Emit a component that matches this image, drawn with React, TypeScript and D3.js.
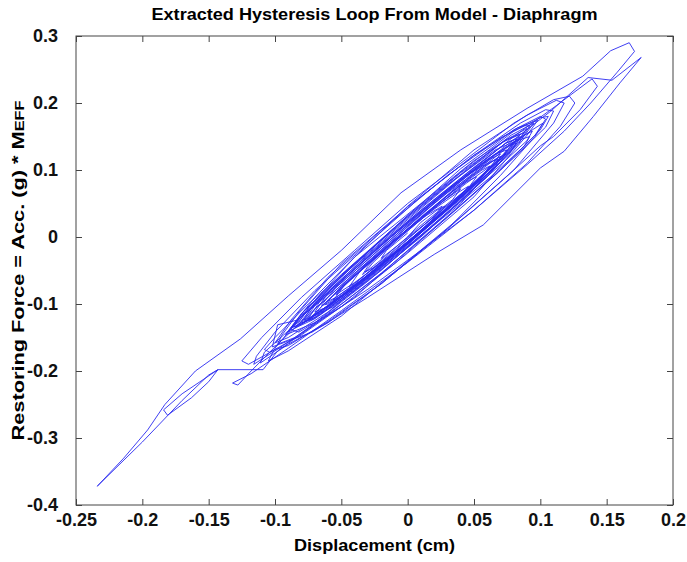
import React, { useRef, useEffect } from "react";
import { select, scaleLinear, line, axisBottom, axisTop, axisLeft, axisRight } from "d3";

// tick values
const xTicks = [-0.25, -0.2, -0.15, -0.1, -0.05, 0, 0.05, 0.1, 0.15, 0.2];
const yTicks = [-0.4, -0.3, -0.2, -0.1, 0, 0.1, 0.2, 0.3];

// hysteresis trace, [displacement (cm), restoring force] in time order
const startCycles = [
  [0.0, 0.0], [0.01, 0.022], [0.022, 0.04], [0.028, 0.046], [0.024, 0.036], [0.008, 0.006],
  [-0.012, -0.026], [-0.026, -0.046], [-0.032, -0.052], [-0.026, -0.038], [-0.008, -0.004],
  [0.016, 0.036], [0.036, 0.064], [0.046, 0.076], [0.04, 0.062], [0.018, 0.022],
  [-0.014, -0.03], [-0.04, -0.068], [-0.054, -0.086], [-0.048, -0.072], [-0.024, -0.03],
  [0.01, 0.028], [0.044, 0.08], [0.064, 0.108], [0.07, 0.116], [0.062, 0.098], [0.032, 0.044],
  [-0.008, -0.022], [-0.046, -0.082], [-0.07, -0.116], [-0.078, -0.126], [-0.07, -0.108],
];

const negativeExcursion = [
  [-0.04, -0.054], [0.0, 0.012], [0.04, 0.078], [0.074, 0.132], [0.094, 0.16], [0.102, 0.17],
  [0.096, 0.152], [0.068, 0.096], [0.028, 0.026], [-0.02, -0.054], [-0.064, -0.122],
  [-0.098, -0.17], [-0.109, -0.198], [-0.143, -0.198], [-0.15, -0.216], [-0.163, -0.24],
  [-0.181, -0.266], [-0.184, -0.258], [-0.17, -0.234], [-0.152, -0.21], [-0.143, -0.198],
  [-0.15, -0.206], [-0.17, -0.244], [-0.2, -0.306], [-0.234, -0.372], [-0.214, -0.33],
  [-0.196, -0.288], [-0.183, -0.25], [-0.16, -0.2], [-0.126, -0.152],
];

const positiveExcursion = [
  [-0.09, -0.088], [-0.05, -0.02], [-0.005, 0.066], [0.04, 0.13], [0.09, 0.192], [0.132, 0.24],
  [0.153, 0.278], [0.167, 0.29], [0.171, 0.277], [0.158, 0.246], [0.138, 0.2], [0.118, 0.158],
  [0.09, 0.108], [0.05, 0.04], [0.0, -0.038], [-0.05, -0.11], [-0.09, -0.166], [-0.118, -0.204],
  [-0.132, -0.218], [-0.128, -0.221], [-0.118, -0.2], [-0.098, -0.16], [-0.066, -0.1],
  [-0.024, -0.026], [0.024, 0.058], [0.07, 0.13], [0.108, 0.188], [0.136, 0.238], [0.154, 0.234],
  [0.176, 0.268], [0.16, 0.23], [0.14, 0.18], [0.118, 0.128], [0.1, 0.103], [0.057, 0.018],
  [0.02, -0.026], [-0.03, -0.09], [-0.072, -0.142], [-0.102, -0.164], [-0.098, -0.131],
  [-0.083, -0.124], [-0.06, -0.086], [-0.02, -0.016], [0.03, 0.07], [0.08, 0.15], [0.112, 0.196],
  [0.139, 0.236], [0.143, 0.225], [0.13, 0.19], [0.11, 0.15], [0.1, 0.136], [0.07, 0.082],
  [0.03, 0.012], [-0.02, -0.07], [-0.06, -0.128], [-0.09, -0.16], [-0.111, -0.188],
  [-0.108, -0.172], [-0.09, -0.14],
];

const wideCycles = [
  [-0.07, -0.09], [-0.04, -0.03], [0.0, 0.046], [0.05, 0.13], [0.09, 0.182], [0.112, 0.204],
  [0.118, 0.2], [0.11, 0.17], [0.08, 0.1], [0.04, 0.03], [0.0, -0.036], [-0.05, -0.118],
  [-0.09, -0.17], [-0.105, -0.185], [-0.1, -0.166], [-0.08, -0.118], [-0.05, -0.06],
  [-0.01, 0.014], [0.04, 0.102], [0.08, 0.16], [0.1, 0.18], [0.104, 0.176], [0.096, 0.15],
  [0.07, 0.092], [0.03, 0.012], [-0.02, -0.07], [-0.06, -0.126], [-0.09, -0.162], [-0.1, -0.168],
];

const outerCycles = [
  [-0.12, -0.19], [-0.125, -0.185], [-0.11, -0.15], [-0.08, -0.09], [-0.04, -0.02], [0.0, 0.05],
  [0.04, 0.11], [0.08, 0.17], [0.11, 0.205], [0.122, 0.21], [0.126, 0.2], [0.115, 0.165],
  [0.09, 0.11], [0.05, 0.04], [0.01, -0.02], [-0.03, -0.078], [-0.07, -0.13], [-0.1, -0.17],
  [-0.116, -0.19], [-0.114, -0.178], [-0.1, -0.142], [-0.07, -0.08], [-0.03, -0.01], [0.01, 0.06],
  [0.05, 0.122], [0.085, 0.17], [0.104, 0.19], [0.11, 0.188], [0.104, 0.164], [0.08, 0.118],
  [0.04, 0.048], [0.0, -0.02], [-0.04, -0.09], [-0.08, -0.146], [-0.104, -0.172], [-0.108, -0.168],
  [-0.1, -0.15], [-0.075, -0.1], [-0.04, -0.04], [0.0, 0.032], [0.045, 0.105], [0.08, 0.158],
  [0.1, 0.178], [0.106, 0.18], [0.1, 0.16], [0.07, 0.1], [0.03, 0.03], [-0.01, -0.04],
  [-0.05, -0.1], [-0.085, -0.15], [-0.098, -0.16],
];

const midCycles = [
  [-0.095, -0.147], [-0.082, -0.112], [-0.05, -0.04], [0.0, 0.045], [0.05, 0.122], [0.083, 0.163],
  [0.098, 0.174], [0.09, 0.152], [0.05, 0.06], [0.0, -0.024], [-0.05, -0.104], [-0.082, -0.142],
  [-0.088, -0.138], [-0.076, -0.108], [-0.04, -0.03], [0.01, 0.05], [0.05, 0.114], [0.075, 0.146],
  [0.085, 0.154], [0.078, 0.134], [0.04, 0.05], [-0.01, -0.03], [-0.06, -0.112], [-0.09, -0.15],
  [-0.1, -0.158], [-0.088, -0.124], [-0.06, -0.06], [-0.02, 0.01], [0.03, 0.092], [0.07, 0.148],
  [0.088, 0.166], [0.092, 0.166], [0.084, 0.14], [0.05, 0.072], [0.01, 0.0], [-0.04, -0.08],
  [-0.07, -0.122], [-0.08, -0.128], [-0.07, -0.098], [-0.04, -0.04], [0.0, 0.03], [0.04, 0.096],
  [0.075, 0.146], [0.09, 0.162], [0.082, 0.14], [0.06, 0.09], [0.02, 0.018], [-0.03, -0.066],
  [-0.07, -0.128], [-0.092, -0.146], [-0.08, -0.114], [-0.05, -0.056], [-0.01, 0.014],
  [0.03, 0.078], [0.066, 0.13], [0.08, 0.142], [0.072, 0.122], [0.04, 0.06], [0.0, -0.012],
  [-0.04, -0.078], [-0.072, -0.124], [-0.085, -0.136], [-0.074, -0.104], [-0.044, -0.046],
  [0.0, 0.028], [0.044, 0.1], [0.078, 0.152], [0.095, 0.17], [0.086, 0.146], [0.06, 0.09],
  [0.02, 0.02], [-0.02, -0.05], [-0.056, -0.104], [-0.075, -0.122], [-0.064, -0.09],
  [-0.036, -0.04], [0.0, 0.022], [0.036, 0.08], [0.066, 0.124], [0.075, 0.13], [0.066, 0.11],
  [0.036, 0.052], [0.0, -0.01], [-0.04, -0.076], [-0.08, -0.13], [-0.09, -0.142], [-0.078, -0.11],
  [-0.046, -0.052], [-0.006, 0.016], [0.036, 0.086], [0.072, 0.142], [0.088, 0.156], [0.08, 0.134],
  [0.05, 0.08], [0.012, 0.012], [-0.03, -0.06], [-0.06, -0.104], [-0.07, -0.112], [-0.058, -0.078],
  [-0.03, -0.026], [0.01, 0.04], [0.05, 0.104], [0.074, 0.14], [0.082, 0.146], [0.074, 0.126],
  [0.044, 0.07], [0.004, 0.0], [-0.036, -0.068], [-0.07, -0.12], [-0.082, -0.13], [-0.07, -0.1],
  [-0.04, -0.048], [0.0, 0.022], [0.04, 0.084], [0.062, 0.116], [0.07, 0.124], [0.062, 0.104],
  [0.03, 0.044], [-0.01, -0.024], [-0.044, -0.08], [-0.06, -0.1], [-0.065, -0.102],
  [-0.052, -0.07], [-0.024, -0.018], [0.01, 0.036], [0.044, 0.092], [0.062, 0.112], [0.068, 0.116],
  [0.058, 0.094], [0.03, 0.042], [-0.01, -0.026], [-0.05, -0.09], [-0.072, -0.118],
  [-0.078, -0.124], [-0.066, -0.092], [-0.036, -0.038], [0.004, 0.03], [0.044, 0.094],
  [0.074, 0.14], [0.085, 0.15], [0.076, 0.128], [0.046, 0.07], [0.006, 0.0], [-0.03, -0.058],
  [-0.054, -0.09], [-0.06, -0.096],
];

const decayCycles = [
  [-0.05, -0.074], [-0.02, -0.02], [0.02, 0.05], [0.055, 0.108], [0.08, 0.142], [0.092, 0.15],
  [0.088, 0.136], [0.064, 0.092], [0.03, 0.036], [-0.01, -0.03], [-0.05, -0.092], [-0.078, -0.128],
  [-0.088, -0.136], [-0.08, -0.118], [-0.05, -0.066], [-0.01, 0.004], [0.03, 0.07], [0.06, 0.116],
  [0.076, 0.136], [0.082, 0.14], [0.076, 0.122], [0.05, 0.076], [0.01, 0.01], [-0.03, -0.056],
  [-0.062, -0.106], [-0.08, -0.13], [-0.086, -0.134], [-0.076, -0.112], [-0.044, -0.058],
  [-0.006, 0.008], [0.03, 0.066], [0.058, 0.106], [0.07, 0.12], [0.066, 0.104], [0.04, 0.058],
  [0.004, -0.004], [-0.036, -0.066], [-0.064, -0.108], [-0.072, -0.118], [-0.06, -0.094],
  [-0.03, -0.04], [0.006, 0.022], [0.04, 0.08], [0.066, 0.122], [0.086, 0.15], [0.094, 0.158],
  [0.09, 0.144], [0.068, 0.104], [0.03, 0.04], [-0.01, -0.028], [-0.046, -0.086], [-0.066, -0.116],
  [-0.074, -0.124], [-0.064, -0.102], [-0.036, -0.052], [0.0, 0.012], [0.034, 0.068], [0.056, 0.1],
  [0.062, 0.106], [0.056, 0.09], [0.028, 0.044], [-0.008, -0.016], [-0.04, -0.07], [-0.058, -0.096],
  [-0.062, -0.1], [-0.052, -0.078], [-0.024, -0.03], [0.01, 0.03], [0.04, 0.078], [0.066, 0.116],
  [0.074, 0.124], [0.068, 0.108], [0.042, 0.064], [0.006, 0.002], [-0.03, -0.058], [-0.05, -0.088],
  [-0.056, -0.094], [-0.046, -0.068], [-0.016, -0.018], [0.016, 0.036], [0.044, 0.082],
  [0.052, 0.09], [0.046, 0.074], [0.018, 0.028], [-0.014, -0.028], [-0.038, -0.066],
  [-0.044, -0.074], [-0.034, -0.046], [-0.006, 0.002], [0.024, 0.05], [0.04, 0.072], [0.034, 0.056],
  [0.008, 0.014], [-0.02, -0.034], [-0.034, -0.056], [-0.03, -0.044], [-0.01, -0.004],
  [0.014, 0.032], [0.026, 0.046], [0.02, 0.03], [-0.002, -0.004], [-0.02, -0.032], [-0.016, -0.02],
  [0.0, 0.006],
];

const W = 687;
const H = 562;
const margin = { top: 36, right: 14, bottom: 57, left: 76 };
const font = "'Liberation Sans', Arial, sans-serif";

function HysteresisPlot() {
  const svgRef = useRef(null);

  useEffect(() => {
    const svg = select(svgRef.current);
    svg.selectAll("*").remove();

    const x = scaleLinear().domain([-0.25, 0.2]).range([margin.left, W - margin.right]);
    const y = scaleLinear().domain([-0.4, 0.3]).range([H - margin.bottom, margin.top]);
    const fmt = (d) => String(d);
    const axisColor = "#444";

    // data line first, the box goes on top
    const trace = [
      ...startCycles, ...negativeExcursion, ...positiveExcursion,
      ...wideCycles, ...outerCycles, ...midCycles, ...decayCycles,
    ];
    svg.append("path")
      .attr("d", line().x((d) => x(d[0])).y((d) => y(d[1]))(trace))
      .attr("fill", "none")
      .attr("stroke", "#2a2af0")
      .attr("stroke-width", 0.9)
      .attr("stroke-linejoin", "round");

    const styleAxis = (g) => {
      g.select(".domain").remove();
      g.selectAll("line").attr("stroke", axisColor);
      g.selectAll("text")
        .attr("font-family", font)
        .attr("font-weight", "bold")
        .attr("font-size", 18)
        .attr("fill", "#111");
    };

    svg.append("g")
      .attr("transform", `translate(0,${H - margin.bottom})`)
      .call(axisBottom(x).tickValues(xTicks).tickFormat(fmt).tickSizeInner(-6).tickSizeOuter(0).tickPadding(8))
      .call(styleAxis)
      .call((g) => g.selectAll("text").attr("dy", "0.71em"));

    svg.append("g")
      .attr("transform", `translate(0,${margin.top})`)
      .call(axisTop(x).tickValues(xTicks).tickFormat(() => "").tickSizeInner(-6).tickSizeOuter(0))
      .call(styleAxis);

    svg.append("g")
      .attr("transform", `translate(${margin.left},0)`)
      .call(axisLeft(y).tickValues(yTicks).tickFormat(fmt).tickSizeInner(-6).tickSizeOuter(0).tickPadding(18))
      .call(styleAxis);

    svg.append("g")
      .attr("transform", `translate(${W - margin.right},0)`)
      .call(axisRight(y).tickValues(yTicks).tickFormat(() => "").tickSizeInner(-6).tickSizeOuter(0))
      .call(styleAxis);

    svg.append("rect")
      .attr("x", margin.left)
      .attr("y", margin.top)
      .attr("width", W - margin.left - margin.right)
      .attr("height", H - margin.top - margin.bottom)
      .attr("fill", "none")
      .attr("stroke", axisColor)
      .attr("stroke-width", 1);

    const cx = (margin.left + W - margin.right) / 2;

    svg.append("text")
      .attr("x", cx)
      .attr("y", 20)
      .attr("text-anchor", "middle")
      .attr("font-family", font)
      .attr("font-weight", "bold")
      .attr("font-size", 17)
      .attr("textLength", 446)
      .attr("lengthAdjust", "spacingAndGlyphs")
      .text("Extracted Hysteresis Loop From Model - Diaphragm");

    svg.append("text")
      .attr("x", cx)
      .attr("y", 551)
      .attr("text-anchor", "middle")
      .attr("font-family", font)
      .attr("font-weight", "bold")
      .attr("font-size", 17)
      .attr("textLength", 161)
      .attr("lengthAdjust", "spacingAndGlyphs")
      .text("Displacement (cm)");

    const yLabel = svg.append("text")
      .attr("transform", `translate(24,${(margin.top + H - margin.bottom) / 2}) rotate(-90)`)
      .attr("text-anchor", "middle")
      .attr("font-family", font)
      .attr("font-weight", "bold")
      .attr("font-size", 16)
      .attr("textLength", 340)
      .attr("lengthAdjust", "spacingAndGlyphs");
    yLabel.append("tspan").text("Restoring Force = Acc. (g) * M");
    yLabel.append("tspan").attr("font-size", 12).text("EFF");
  }, []);

  return (
    <svg
      ref={svgRef}
      width={W}
      height={H}
      style={{ position: "absolute", left: 0, top: 0, background: "#fff" }}
    />
  );
}

export default function App() {
  return <HysteresisPlot />;
}
